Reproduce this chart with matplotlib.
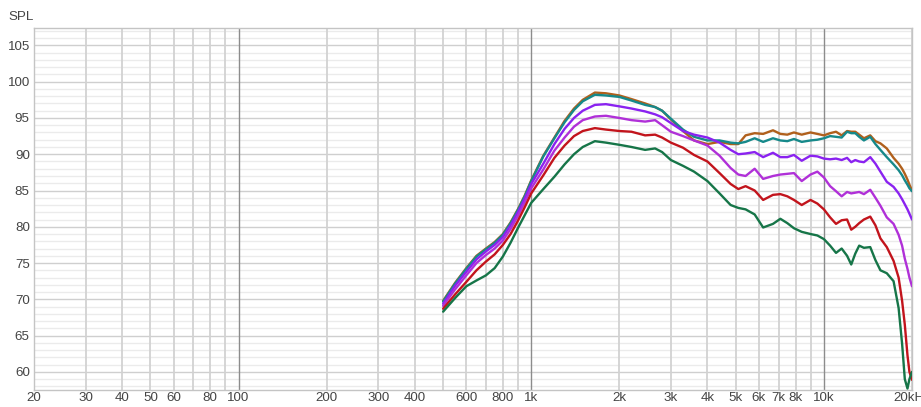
import matplotlib
matplotlib.use("Agg")
import matplotlib.pyplot as plt
import numpy as np

plt.rcParams["font.family"] = ["Liberation Sans", "DejaVu Sans"]

# measurement frequencies (Hz)
freq = [500, 550, 600, 650, 700, 750, 800, 850, 900, 950, 1000, 1100, 1200, 1300,
        1400, 1500, 1650, 1800, 2000, 2200, 2450, 2650, 2800, 3000, 3300, 3600, 4000,
        4400, 4800, 5100, 5400, 5800, 6200, 6700, 7100, 7500, 7900, 8400, 9000,
        9500, 10000, 10500, 11000, 11500, 12000, 12400, 12800, 13200, 13700,
        14400, 15000, 15600, 16400, 17300, 18000, 18500, 18900, 19300, 19600, 20000]

spl_brown = [69.8, 72.3, 74.3, 76.0, 77.0, 77.9, 79.0, 80.6, 82.4, 84.3, 86.4, 89.8,
             92.3, 94.6, 96.3, 97.5, 98.5, 98.4, 98.1, 97.6, 97.0, 96.5, 96.0, 94.8,
             93.2, 91.9, 91.4, 91.7, 91.4, 91.4, 92.6, 92.9, 92.8, 93.3, 92.8, 92.7,
             93.0, 92.7, 93.0, 92.8, 92.6, 92.9, 93.1, 92.6, 93.2, 93.1, 93.1, 92.7,
             92.2, 92.6, 91.8, 91.5, 90.8, 89.5, 88.7, 88.0, 87.3, 86.5, 85.8, 85.0]

spl_teal = [69.7, 72.2, 74.2, 75.9, 76.9, 77.8, 78.9, 80.5, 82.3, 84.2, 86.3, 89.7,
            92.2, 94.4, 96.1, 97.3, 98.2, 98.1, 97.9, 97.4, 96.8, 96.5, 96.0, 94.9,
            93.4, 92.4, 91.9, 91.9, 91.6, 91.5, 91.7, 92.2, 91.7, 92.2, 91.9, 91.8,
            92.1, 91.7, 91.9, 92.0, 92.2, 92.5, 92.4, 92.3, 93.1, 92.9, 92.9, 92.4,
            91.9, 92.4, 91.4, 90.6, 89.6, 88.6, 87.8, 87.1, 86.4, 85.8, 85.3, 84.9]

spl_blue = [69.4, 71.9, 73.8, 75.5, 76.6, 77.5, 78.6, 80.2, 82.0, 83.9, 85.9, 88.7,
            91.4, 93.5, 95.0, 96.0, 96.8, 96.9, 96.6, 96.3, 95.9, 95.5, 95.1, 94.3,
            93.2, 92.7, 92.3, 91.6, 90.6, 90.0, 90.1, 90.3, 89.6, 90.2, 89.6, 89.6,
            89.9, 89.1, 89.8, 89.7, 89.4, 89.3, 89.4, 89.2, 89.5, 88.9, 89.2, 89.0,
            88.9, 89.6, 88.7, 87.6, 86.2, 85.5, 84.6, 83.8, 83.1, 82.4, 81.8, 81.0]

spl_purple = [69.1, 71.4, 73.3, 75.0, 76.1, 77.0, 78.1, 79.7, 81.5, 83.4, 85.3, 87.9,
              90.5, 92.3, 93.8, 94.7, 95.2, 95.3, 95.0, 94.7, 94.5, 94.7, 94.0, 93.1,
              92.5, 91.9, 91.2, 89.8, 88.1, 87.2, 87.0, 88.0, 86.6, 87.0, 87.2, 87.3,
              87.4, 86.3, 87.2, 87.6, 86.8, 85.6, 84.9, 84.2, 84.8, 84.6, 84.7, 84.8,
              84.5, 85.1, 84.0, 82.9, 81.3, 80.4, 78.9, 77.4, 75.6, 74.2, 73.0, 71.8]

spl_red = [68.7, 70.7, 72.4, 74.0, 75.2, 76.2, 77.5, 79.0, 80.8, 82.7, 84.6, 87.1,
           89.5, 91.2, 92.5, 93.2, 93.6, 93.4, 93.2, 93.1, 92.6, 92.7, 92.3, 91.6,
           90.9, 89.9, 89.0, 87.4, 85.9, 85.2, 85.6, 85.0, 83.7, 84.4, 84.5, 84.2,
           83.7, 83.0, 83.7, 83.2, 82.4, 81.3, 80.4, 80.9, 81.0, 79.6, 80.0, 80.5,
           81.0, 81.4, 80.2, 78.4, 77.2, 75.3, 73.0, 69.8, 66.5, 62.3, 60.0, 58.9]

spl_green = [68.3, 70.2, 71.8, 72.6, 73.3, 74.3, 75.9, 77.8, 79.8, 81.6, 83.3, 85.2,
             86.9, 88.6, 90.0, 91.0, 91.8, 91.6, 91.3, 91.0, 90.6, 90.8, 90.3, 89.2,
             88.4, 87.6, 86.3, 84.6, 83.0, 82.6, 82.4, 81.7, 79.9, 80.4, 81.1, 80.5,
             79.8, 79.3, 79.0, 78.8, 78.3, 77.4, 76.4, 77.0, 76.0, 74.8, 76.3, 77.4,
             77.1, 77.2, 75.4, 74.0, 73.6, 72.5, 68.8, 63.9, 59.0, 57.7, 59.0, 60.0]

curves = [
    (spl_brown, "#b0601c"),
    (spl_teal, "#16898a"),
    (spl_blue, "#8a22f0"),
    (spl_purple, "#b030d8"),
    (spl_red, "#c2141c"),
    (spl_green, "#167548"),
]

x_ticks = [20, 30, 40, 50, 60, 80, 100, 200, 300, 400, 600, 800, 1000, 2000,
           3000, 4000, 5000, 6000, 7000, 8000, 10000, 20000]
x_labels = ["20", "30", "40", "50", "60", "80", "100", "200", "300", "400", "600",
            "800", "1k", "2k", "3k", "4k", "5k", "6k", "7k", "8k", "10k", "20kHz"]
y_ticks = [60, 65, 70, 75, 80, 85, 90, 95, 100, 105]

fig = plt.figure(figsize=(9.21, 4.07), dpi=100, facecolor="white")
ax = fig.add_axes([34 / 921, 17 / 407, 878 / 921, 362 / 407])
ax.set_xscale("log")
ax.set_xlim(20, 20000)
ax.set_ylim(57.5, 107.4)

# horizontal grid: 1 dB light, 5 dB darker
for v in range(58, 108):
    if v % 5 == 0:
        ax.axhline(v, color="#cfcfcf", lw=1.0, zorder=1)
    else:
        ax.axhline(v, color="#ebebeb", lw=1.0, zorder=0)

# vertical grid: every 1..9 step of each decade, decades darker
for dec in [10, 100, 1000, 10000]:
    for m in range(1, 10):
        f = dec * m
        if f < 20 or f > 20000:
            continue
        if m == 1:
            ax.axvline(f, color="#8c8c8c", lw=1.0, zorder=1)
        else:
            ax.axvline(f, color="#d2d2d2", lw=1.3, zorder=1)

for spl, color in curves:
    ax.plot(freq, spl, color=color, lw=1.7, zorder=3,
            solid_joinstyle="round", solid_capstyle="round")

ax.set_xticks(x_ticks)
ax.set_xticklabels(x_labels)
ax.xaxis.set_minor_locator(matplotlib.ticker.NullLocator())
ax.set_yticks(y_ticks)
ax.tick_params(axis="both", length=0, labelsize=9.6, labelcolor="#444444")
ax.tick_params(axis="x", pad=1.5)
ax.tick_params(axis="y", pad=3)

for s in ax.spines.values():
    s.set_color("#c4c4c4")
    s.set_linewidth(1.0)

fig.text(8 / 921, 1 - 17 / 407, "SPL", fontsize=9.6, color="#444444", va="center")

fig.savefig("out.png", dpi=100, facecolor="white")
